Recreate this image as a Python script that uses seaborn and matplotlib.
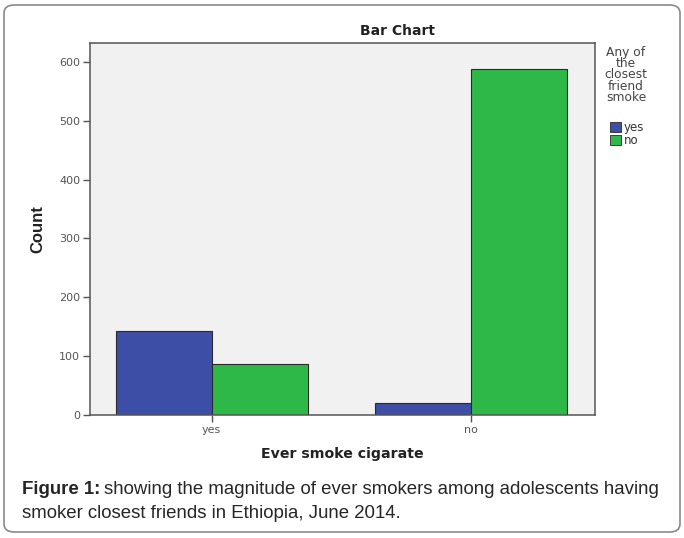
import matplotlib
matplotlib.use('Agg')
from matplotlib import pyplot as plt
from matplotlib.patches import FancyBboxPatch, Patch
import seaborn as sb
import pandas as pd

# data
smoke_cats = ['yes', 'no']
friend_cats = ['yes', 'no']
counts_friend_yes = [142, 20]
counts_friend_no = [86, 588]
y_ticks = [0, 100, 200, 300, 400, 500, 600]

blue = '#3d4ea6'
green = '#2eb848'

df = pd.DataFrame({
    'smoke': smoke_cats * 2,
    'friend': ['yes'] * 2 + ['no'] * 2,
    'count': counts_friend_yes + counts_friend_no,
})

sb.set_style('white')
plt.rcParams['font.family'] = ['Liberation Sans', 'DejaVu Sans']

W, H = 684, 538
fig = plt.figure(figsize=(W / 100, H / 100), dpi=100)

# rounded outer frame
fig.patches.append(FancyBboxPatch((4 / W, 6 / H), 676 / W, 527 / H,
                                  boxstyle='round,pad=0,rounding_size=0.015',
                                  transform=fig.transFigure, fill=False,
                                  edgecolor='#8a8a8a', linewidth=1.2))

ax = fig.add_axes([90 / W, (H - 415) / H, (595 - 90) / W, (415 - 43) / H])
ax.set_facecolor('#f1f1f1')

sb.barplot(data=df, x='smoke', y='count', hue='friend', order=smoke_cats, hue_order=friend_cats,
           palette=[blue, green], width=0.74, edgecolor='#2a2a2a', linewidth=0.8,
           saturation=1, ax=ax, legend=False)

ax.set_xlim(-0.47, 1.48)
ax.set_ylim(0, 632)
ax.set_yticks(y_ticks)
ax.tick_params(axis='both', direction='out', length=5, width=1, color='#555555',
               labelsize=8, labelcolor='#555555', left=True, bottom=True, pad=2)
for lab in ax.get_xticklabels() + ax.get_yticklabels():
    lab.set_family('DejaVu Sans')
for s in ax.spines.values():
    s.set_color('#555555')
    s.set_linewidth(1.1)

fig.text(398 / W, 1 - 31 / H, 'Bar Chart', ha='center', va='center', fontsize=10,
         fontweight='bold', family='DejaVu Sans', color='#222222')
ax.set_ylabel('Count', fontsize=12, fontweight='bold', labelpad=10,
              family=['Liberation Sans Narrow', 'Liberation Sans'], color='#222222')
ax.set_xlabel('Ever smoke cigarate', fontsize=10.2, fontweight='bold', labelpad=9,
              family='DejaVu Sans', color='#222222')

# legend
fig.text(626 / W, 1 - 46 / H, 'Any of\nthe\nclosest\nfriend\nsmoke', ha='center', va='top',
         fontsize=8.8, color='#444444', linespacing=0.82, family='DejaVu Sans')
handles = [Patch(facecolor=blue, edgecolor='#2a2a2a', linewidth=0.6),
           Patch(facecolor=green, edgecolor='#2a2a2a', linewidth=0.6)]
leg = fig.legend(handles, friend_cats, loc='upper left', bbox_to_anchor=(604 / W, 1 - 115 / H),
                 frameon=False, fontsize=8.5, handlelength=0.9, handleheight=0.85,
                 handletextpad=0.25, labelspacing=0.02, borderpad=0, labelcolor='#333333')
for txt in leg.get_texts():
    txt.set_family('DejaVu Sans')

# caption
fig.canvas.draw()
r = fig.canvas.get_renderer()
t = fig.text(22 / W, 1 - 490 / H, 'Figure 1:', fontsize=13.4, fontweight='bold', va='center')
bb = t.get_window_extent(renderer=r)
fig.text((bb.x1 + 4) / W, 1 - 490 / H, 'showing the magnitude of ever smokers among adolescents having',
         fontsize=13.4, va='center')
fig.text(22 / W, 1 - 513 / H, 'smoker closest friends in Ethiopia, June 2014.', fontsize=13.4, va='center')

plt.savefig('out.png', dpi=100)
